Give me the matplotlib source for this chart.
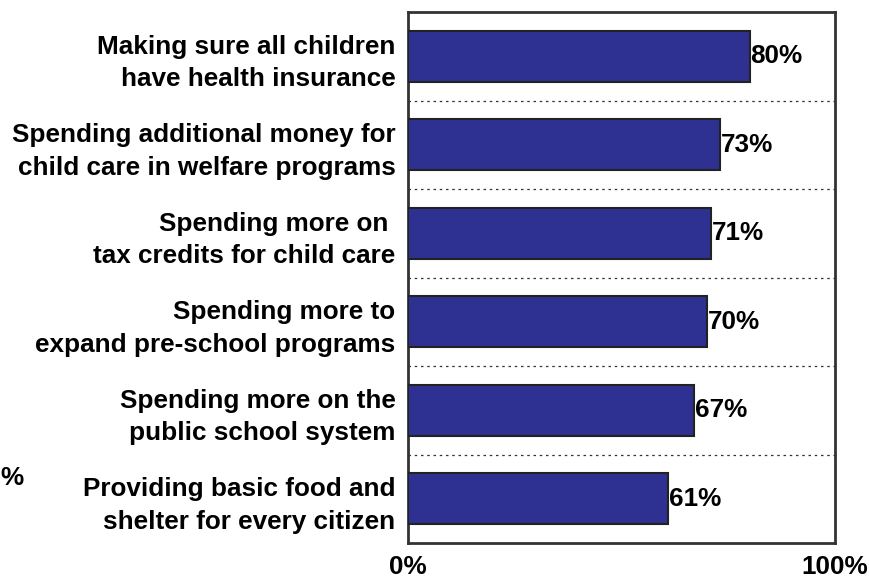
import matplotlib
matplotlib.use("Agg")
import matplotlib.pyplot as plt

plt.rcParams['font.family'] = ['Liberation Sans', 'DejaVu Sans']
plt.rcParams['font.weight'] = 'bold'

## data
labels = [
    "Making sure all children\nhave health insurance",
    "Spending additional money for\nchild care in welfare programs",
    "Spending more on \ntax credits for child care",
    "Spending more to\nexpand pre-school programs",
    "Spending more on the\npublic school system",
    "Providing basic food and\nshelter for every citizen",
]
values = [80, 73, 71, 70, 67, 61]
xticks = [0, 100]
xticklabels = ["0%", "100%"]

fs = 18.8

fig = plt.figure(figsize=(8.7, 5.79), dpi=100)
ax = fig.add_axes([408/870, 1-543/579, (835-408)/870, (543-12)/579])

ypos = list(range(len(values)))
ax.barh(ypos, values, height=0.58, color='#2E3192', edgecolor='#222222', linewidth=1.5, zorder=3)

for y, v in zip(ypos, values):
    ax.text(v + 0.2, y, str(v) + "%", va='center', ha='left', fontsize=fs, fontweight='bold', zorder=4)

# dotted separators between categories
for b in [i + 0.5 for i in range(len(values) - 1)]:
    ax.axhline(b, color='#333333', linestyle=(0, (2, 3)), linewidth=0.9, zorder=1)

ax.set_xlim(0, 100)
ax.set_ylim(len(values) - 0.5, -0.5)
ax.set_yticks(ypos)
ax.set_yticklabels(labels, fontsize=fs, fontweight='bold', linespacing=1.45)
ax.set_xticks(xticks)
ax.set_xticklabels(xticklabels, fontsize=fs, fontweight='bold')
ax.tick_params(axis='both', length=0)
ax.tick_params(axis='y', pad=9)
ax.tick_params(axis='x', pad=9)

for s in ax.spines.values():
    s.set_color('#333333')
    s.set_linewidth(2)

# leftover label at the far left
fig.text(0/870, 1-478/579, "%", ha='left', va='center', fontsize=fs, fontweight='bold')

plt.savefig('out.png', dpi=100)
